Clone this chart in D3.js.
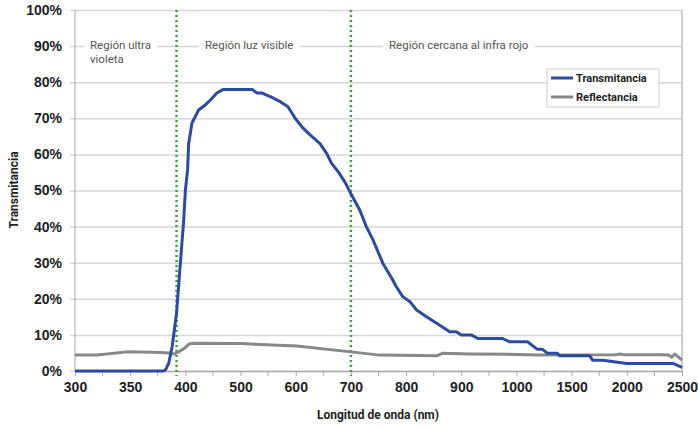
<!DOCTYPE html>
<html>
<head>
<meta charset="utf-8">
<script src="https://cdn.jsdelivr.net/npm/d3@7"></script>
<style>
  body { margin: 0; background: #fff; }
  svg { font-family: Roboto, "Liberation Sans", sans-serif; }
</style>
</head>
<body>
<svg width="698" height="429"></svg>
<script>
// longitud de onda (nm) y transmitancia (%)
var transWl = [300, 380, 382, 385, 388, 392, 395, 398.5, 400, 404, 406, 412, 424, 436, 445, 457, 469, 521, 530, 539,
    554, 572, 586, 599, 612, 626, 644, 656, 665, 677, 689, 701, 716, 728, 740, 758, 774, 782, 794, 807, 819, 837,
    861, 879, 891, 900, 918, 930, 975, 987, 1100, 1190, 1236, 1282, 1370, 1391, 1664, 1690, 1782, 2000, 2418, 2500];
var transVal = [0, 0, 0.3, 2.2, 6.7, 16, 28, 41.8, 50, 55.7, 63, 68.7, 72.3, 73.7, 75, 77, 78, 78, 77, 77,
    76, 74.6, 73.2, 70, 67.5, 65.4, 63, 60.3, 57.5, 55.2, 52.4, 48.8, 44.6, 40, 36.3, 29.8, 25.7, 23.4, 20.6, 19.2, 16.9, 15,
    12.7, 10.9, 10.9, 10, 10, 9, 9, 8.1, 8.1, 6, 6, 4.9, 4.9, 4.2, 4.2, 3, 3, 2.1, 2.1, 1];

var reflWl = [300, 320, 347, 378, 385, 390, 395, 400, 407, 415, 500, 602, 700, 752, 855, 866, 915, 1000, 1200,
    1900, 1936, 1980, 2300, 2380, 2406, 2436, 2500];
var reflVal = [4.4, 4.4, 5.3, 5.1, 5.0, 4.7, 5.5, 6.5, 7.5, 7.7, 7.6, 6.9, 5.3, 4.4, 4.2, 4.9, 4.7, 4.6, 4.4,
    4.5, 4.7, 4.5, 4.5, 4.4, 3.8, 4.7, 3];

var xTicks = [300, 350, 400, 500, 600, 700, 800, 900, 1000, 1500, 2000, 2500];
var xMinor = [325, 375, 450, 550, 650, 750, 850, 950, 1250, 1750, 2250];
var yTicks = [0, 0.1, 0.2, 0.3, 0.4, 0.5, 0.6, 0.7, 0.8, 0.9, 1];
var regionLimits = [392, 700];

var svg = d3.select("svg"),
    margin = {top: 10, right: 16, bottom: 58, left: 75},
    width = +svg.attr("width") - margin.left - margin.right,
    height = +svg.attr("height") - margin.top - margin.bottom;

// eje con tramos: 300-400, 400-1000, 1000-2500
var step = width / 11;
var x = d3.scaleLinear().domain([300, 400, 1000, 2500]).range([0, 2 * step, 8 * step, width]),
    y = d3.scaleLinear().domain([0, 1]).range([height, 0]);

var g = svg.append("g")
    .attr("transform", "translate(" + margin.left + "," + margin.top + ")");

// rejilla y eje y
var yAx = g.append("g")
    .attr("class", "y-axis")
    .call(d3.axisLeft(y).tickValues(yTicks).tickFormat(d3.format(".0%")).tickSize(-width).tickPadding(13));
yAx.select(".domain").remove();
yAx.selectAll("line").attr("x1", -5).attr("stroke", "#d6d6d6").attr("stroke-width", 1.5);
yAx.selectAll("text").attr("fill", "#222").style("font-size", "14px").style("font-weight", "bold");

g.append("line").attr("x1", 0).attr("x2", 0).attr("y1", 0).attr("y2", height)
    .attr("stroke", "#b5b5b5").attr("stroke-width", 1.2);
g.append("line").attr("x1", width).attr("x2", width).attr("y1", 0).attr("y2", height)
    .attr("stroke", "#bdbdbd").attr("stroke-width", 1.5);

// eje x
var xAx = g.append("g")
    .attr("class", "x-axis")
    .attr("transform", "translate(0," + height + ")")
    .call(d3.axisBottom(x).tickValues(xTicks).tickFormat(d3.format("d")).tickSize(5).tickSizeOuter(0).tickPadding(6));
xAx.select(".domain").attr("stroke", "#aaa").attr("stroke-width", 1.5);
xAx.selectAll("line").attr("stroke", "#aaa");
xAx.selectAll("text").attr("fill", "#222").style("font-size", "14px").style("font-weight", "bold");

g.append("g")
    .attr("transform", "translate(0," + height + ")")
    .selectAll("line")
    .data(xMinor)
    .enter().append("line")
    .attr("x1", function(d) { return x(d); })
    .attr("x2", function(d) { return x(d); })
    .attr("y1", 0).attr("y2", 5)
    .attr("stroke", "#aaa");

// textos de regiones
var regions = [
    {lines: ["Región ultra", "violeta"], x: 15},
    {lines: ["Región luz visible"], x: 130},
    {lines: ["Región cercana al infra rojo"], x: 314}
];
regions.forEach(function(r) {
    var rg = g.append("g");
    var bg = rg.append("rect").attr("fill", "#fff");
    var t = rg.append("text")
        .attr("x", r.x)
        .attr("y", y(0.9) + 3)
        .attr("fill", "#555")
        .style("font-size", "11.5px");
    r.lines.forEach(function(s, i) {
        t.append("tspan").attr("x", r.x).attr("dy", i ? 13.5 : 0).text(s);
    });
    var b = t.node().getBBox();
    bg.attr("x", b.x - 6).attr("y", y(0.9) - 3)
        .attr("width", b.width + 12).attr("height", 6);
});

// lineas de limite de region
g.selectAll(".limite")
    .data(regionLimits)
    .enter().append("line")
    .attr("class", "limite")
    .attr("x1", function(d) { return x(d); })
    .attr("x2", function(d) { return x(d); })
    .attr("y1", 0).attr("y2", height + 5)
    .attr("stroke", "#3aa43a")
    .attr("stroke-width", 2.5)
    .attr("stroke-dasharray", "2,3");

var line = d3.line()
    .x(function(d) { return x(d[0]); })
    .y(function(d) { return y(d[1] / 100); });

g.append("path")
    .datum(d3.zip(reflWl, reflVal))
    .attr("fill", "none")
    .attr("stroke", "#888")
    .attr("stroke-width", 3)
    .attr("stroke-linejoin", "round")
    .attr("d", line);

g.append("path")
    .datum(d3.zip(transWl, transVal))
    .attr("fill", "none")
    .attr("stroke", "#2b4c9e")
    .attr("stroke-width", 3)
    .attr("stroke-linejoin", "round")
    .attr("d", line);

// leyenda
var legend = g.append("g").attr("transform", "translate(472,59)");
legend.append("rect")
    .attr("width", 112).attr("height", 38)
    .attr("fill", "#fff").attr("stroke", "#ccc");
[["Transmitancia", "#2b4c9e"], ["Reflectancia", "#888"]].forEach(function(d, i) {
    legend.append("line")
        .attr("x1", 4).attr("x2", 26)
        .attr("y1", 9 + i * 19).attr("y2", 9 + i * 19)
        .attr("stroke", d[1]).attr("stroke-width", 3);
    legend.append("text")
        .attr("x", 29).attr("y", 13 + i * 19)
        .attr("fill", "#222")
        .style("font-size", "11px").style("font-weight", "bold")
        .text(d[0]);
});

// titulos de ejes
svg.append("text")
    .attr("transform", "translate(18," + (margin.top + 180) + ") rotate(-90)")
    .attr("text-anchor", "middle")
    .attr("fill", "#222")
    .style("font-size", "12px").style("font-weight", "bold")
    .text("Transmitancia");

svg.append("text")
    .attr("x", 378)
    .attr("y", 419)
    .attr("text-anchor", "middle")
    .attr("fill", "#222")
    .style("font-size", "12px").style("font-weight", "bold")
    .text("Longitud de onda (nm)");
</script>
</body>
</html>
